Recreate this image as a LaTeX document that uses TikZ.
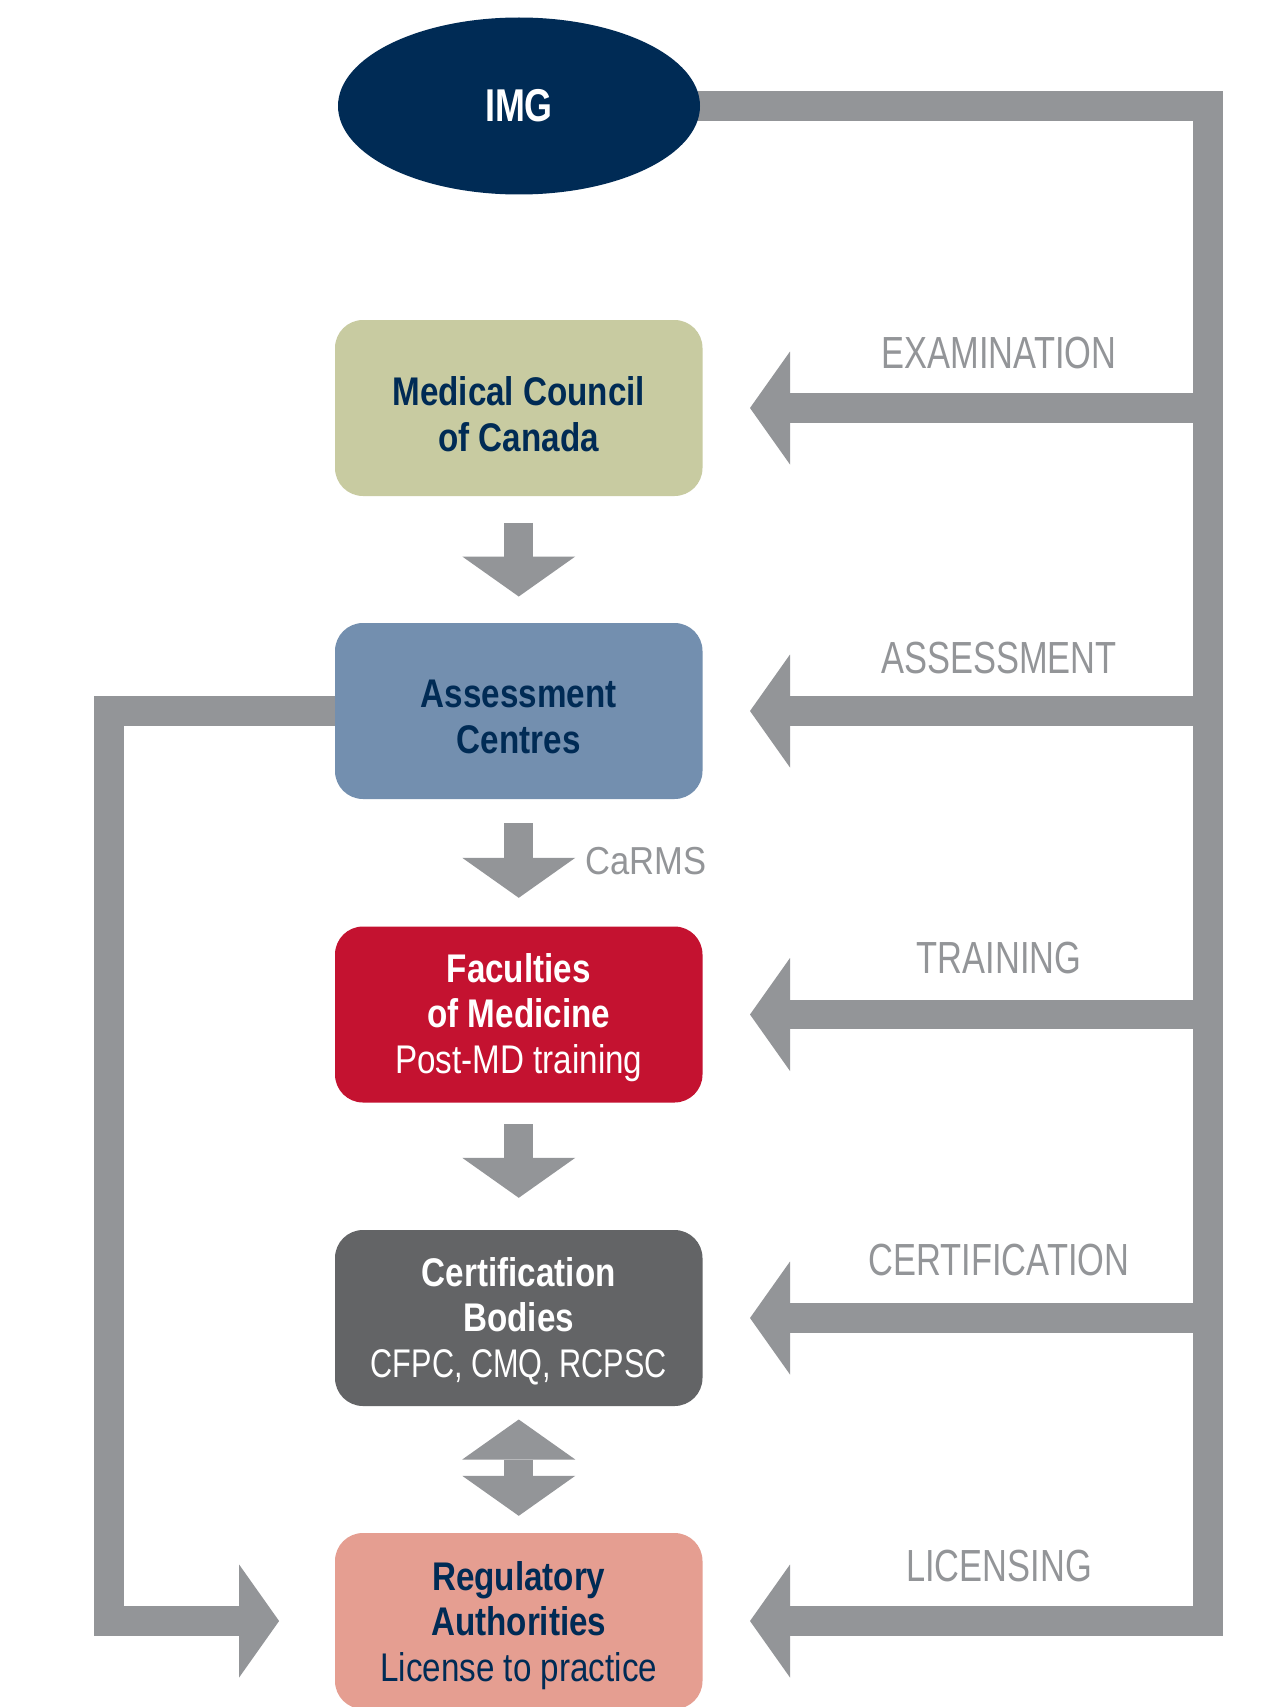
\documentclass[tikz,border=0pt]{standalone}
\usepackage{fontspec}
\setmainfont{Liberation Sans}
\newfontfamily\stagefont[FakeStretch=0.83]{Liberation Sans}
\newfontfamily\stepfont[FakeStretch=0.765]{Liberation Sans}
\newfontfamily\imgfont[FakeStretch=0.78]{Liberation Sans}
\newfontfamily\carmsfont[FakeStretch=0.886]{Liberation Sans}
\usetikzlibrary{arrows.meta,shapes.geometric,backgrounds}

\definecolor{navy}{HTML}{002B55}
\definecolor{flowgray}{HTML}{939598}
\definecolor{mccfill}{HTML}{C8CBA1}
\definecolor{acfill}{HTML}{738FAF}
\definecolor{facfill}{HTML}{C41230}
\definecolor{certfill}{HTML}{636466}
\definecolor{regfill}{HTML}{E59E91}

\begin{document}
\begin{tikzpicture}[x=1pt,y=-1pt,
  stage/.style={rectangle, rounded corners=28pt, minimum width=367.5pt,
    minimum height=176pt, inner sep=0pt},
  % anchored on the baseline of the last line
  stagetext/.style={align=center, anchor=base, inner sep=0pt,
    font=\stagefont\fontsize{40}{45.5}\selectfont},
  flow/.style={draw=flowgray, line width=29.4pt, line join=miter},
  tip/.style={-{Triangle[length=40pt, width=113pt, line width=0pt]}},
  twotip/.style={{Triangle[length=40pt, width=113pt, line width=0pt]}-{Triangle[length=40pt, width=113pt, line width=0pt]}},
  steplabel/.style={inner sep=0pt, text=flowgray,
    font=\stepfont\fontsize{45}{45}\selectfont},
]
\useasboundingbox (0,0) rectangle (1267,1707);

% origin of the pathway
\node[ellipse, fill=navy, minimum width=362pt, minimum height=177pt, inner sep=0pt,
      text=white, font=\imgfont\bfseries\fontsize{46}{46}\selectfont] (img) at (519,106) {IMG};

% stages
\node[stage, fill=mccfill]  (mcc)  at (518.75,408)    {};
\node[stage, fill=acfill]   (ac)   at (518.75,711)    {};
\node[stage, fill=facfill]  (fac)  at (518.75,1014.5) {};
\node[stage, fill=certfill] (cert) at (518.75,1318)   {};
\node[stage, fill=regfill]  (reg)  at (518.75,1621)   {};

\node[stagetext, text=navy]  (mcc-text)  at (518.75,451)    {\textbf{Medical Council}\\\textbf{of Canada}};
\node[stagetext, text=navy]  (ac-text)   at (518.75,753)    {\textbf{Assessment}\\\textbf{Centres}};
\node[stagetext, text=white] (fac-text)  at (518.75,1073.3) {\textbf{Faculties}\\\textbf{of Medicine}\\Post-MD training};
\node[stagetext, text=white] (cert-text) at (518.75,1377)   {\textbf{Certification}\\\textbf{Bodies}\\{\stepfont CFPC, CMQ, RCPSC}};
\node[stagetext, text=navy]  (reg-text)  at (518.75,1681)   {\textbf{Regulatory}\\\textbf{Authorities}\\License to practice};

% step labels along the right-hand bus
\node[steplabel] (lab-exam)   at (999,353)    {EXAMINATION};
\node[steplabel] (lab-assess) at (999,658)    {ASSESSMENT};
\node[steplabel] (lab-train)  at (999,958)    {TRAINING};
\node[steplabel] (lab-cert)   at (999,1259.7) {CERTIFICATION};
\node[steplabel] (lab-lic)    at (999,1566)   {LICENSING};
\node[inner sep=0pt, text=flowgray, font=\carmsfont\fontsize{39}{39}\selectfont]
     (carms) at (646.3,861) {CaRMS};

% bus lines
\coordinate (rbus) at (1208,106);
\coordinate (lbus) at (108.8,711);

\begin{scope}[on background layer]
  \fill[white] (0,0) rectangle (1267,1707);
  % right-hand bus from IMG down to licensing
  \draw[flow, tip, shorten >=47.3pt] (img.center) -| (rbus |- reg.east) -- (reg.east);
  \draw[flow, tip, shorten >=47.3pt] (rbus |- mcc.east)  -- (mcc.east);
  \draw[flow, tip, shorten >=47.3pt] (rbus |- ac.east)   -- (ac.east);
  \draw[flow, tip, shorten >=47.3pt] (rbus |- fac.east)  -- (fac.east);
  \draw[flow, tip, shorten >=47.3pt] (rbus |- cert.east) -- (cert.east);
  % left-hand bus from the assessment centres
  \draw[flow, tip, shorten >=55.7pt] (ac.center) -| (lbus |- reg.west) -- (reg.west);
  % downward steps
  \draw[flow, tip, shorten <=26.7pt, shorten >=26.3pt] (mcc) -- (ac);
  \draw[flow, tip, shorten <=24pt,   shorten >=28.5pt] (ac) -- (fac);
  \draw[flow, tip, shorten <=21.5pt, shorten >=32pt]   (fac) -- (cert);
  \draw[flow, twotip, shorten <=13.3pt, shorten >=17pt] (cert) -- (reg);
\end{scope}
\end{tikzpicture}
\end{document}
